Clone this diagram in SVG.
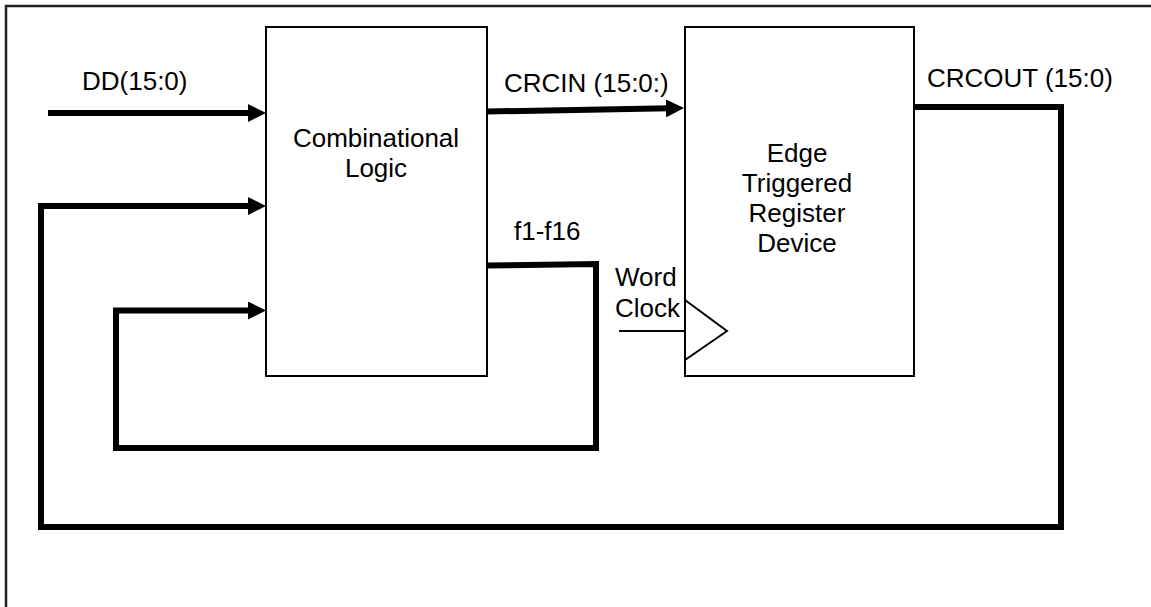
<svg xmlns="http://www.w3.org/2000/svg" width="1151" height="607" viewBox="0 0 1151 607">
<style>
.frame{fill:none;stroke:#222;stroke-width:2.5}
.box{fill:#fff;stroke:#000;stroke-width:2}
.bus{fill:none;stroke:#000;stroke-width:6;stroke-linejoin:miter;stroke-linecap:butt}
.thin{fill:none;stroke:#000;stroke-width:2}
text{font-family:"Liberation Sans",Arial,sans-serif;font-size:26px;fill:#000}
.c{text-anchor:middle}
</style>
<defs>
<marker id="ah" markerUnits="userSpaceOnUse" markerWidth="18" markerHeight="18" refX="4" refY="9" orient="auto" viewBox="0 0 18 18">
<path d="M0,0 L18,9 L0,18 Z" fill="#000"/>
</marker>
</defs>
<rect width="1151" height="607" fill="#fff"/>
<g id="frame">
<path class="frame" d="M6,607 V6 H1151"/>
</g>
<g id="comb">
<rect class="box" x="266" y="27" width="221" height="349"/>
<text class="c" x="376" y="147">Combinational</text>
<text class="c" x="376" y="177">Logic</text>
</g>
<g id="reg">
<rect class="box" x="685" y="27" width="229" height="349"/>
<text class="c" x="797" y="162">Edge</text>
<text class="c" x="797" y="192">Triggered</text>
<text class="c" x="797" y="222">Register</text>
<text class="c" x="797" y="252">Device</text>
<polyline class="thin" points="685,300 727,331 685,360"/>
</g>
<g id="connectors">
<path class="bus" d="M48,113 H252" marker-end="url(#ah)"/>
<path class="bus" d="M914,107 H1061 V527 H41 V206 H252" marker-end="url(#ah)"/>
<path class="bus" d="M487,265.5 L596,264 V448 H116 V310.5 H252" marker-end="url(#ah)"/>
<path class="bus" d="M487,111.5 L670,108.3" marker-end="url(#ah)"/>
<path class="thin" d="M619,331 H685"/>
</g>
<g id="labels">
<text x="82" y="90">DD(15:0)</text>
<text x="504" y="92">CRCIN (15:0:)</text>
<text x="927" y="87">CRCOUT (15:0)</text>
<text x="514" y="240">f1-f16</text>
<text x="615" y="286">Word</text>
<text x="615" y="317">Clock</text>
</g>
</svg>
